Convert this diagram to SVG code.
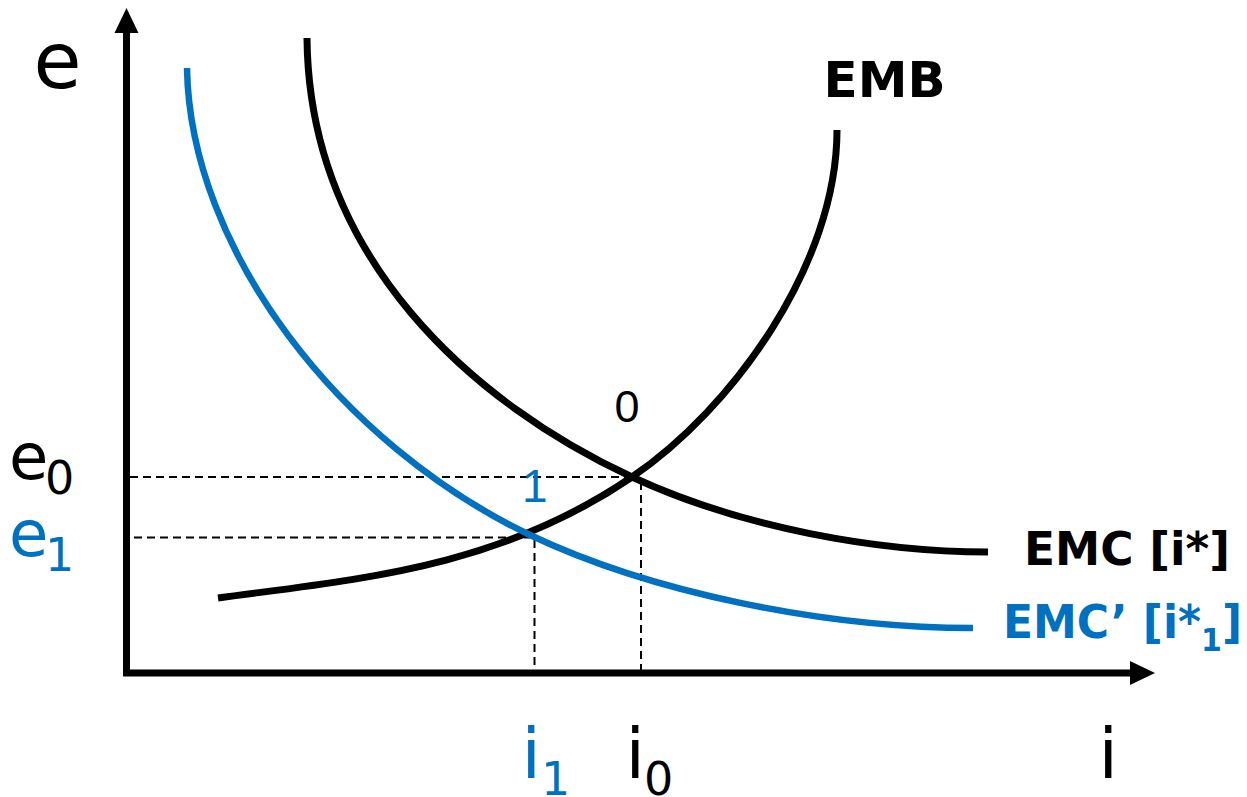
<svg xmlns="http://www.w3.org/2000/svg" width="1247" height="797" viewBox="0 0 1247 797">
<style>
.axis{fill:none;stroke:#000;stroke-width:7;stroke-linejoin:miter}
.curve{fill:none;stroke:#000;stroke-width:7}
.blue{fill:none;stroke:#0070C0;stroke-width:6.5}
.dash{fill:none;stroke:#000;stroke-width:2;stroke-dasharray:8 5}
.lbl{font-family:"DejaVu Sans",Verdana,sans-serif;fill:#000}
.b{fill:#0070C0}
.bold{font-family:"DejaVu Sans",Verdana,sans-serif;font-weight:bold}
.pt{font-family:"Liberation Sans",Arial,sans-serif}
</style>
<rect width="1247" height="797" fill="#fff"/>
<g id="axes">
<path class="axis" d="M126.5,30 V673 H1132"/>
<polygon points="126.5,8 114.5,33 138.5,33" fill="#000"/>
<polygon points="1155,673 1130,661 1130,685" fill="#000"/>
</g>
<g id="guides">
<path class="dash" d="M130,477 H632"/>
<path class="dash" d="M134,537.5 H530"/>
<path class="dash" d="M641,482 V670"/>
<path class="dash" d="M534.5,540 V670"/>
</g>
<g id="connectors">
<path id="EMB" class="curve" d="M218,598 C358,579 497,569 632,477 C732,409 837,265 837,130"/>
<path id="EMC" class="curve" d="M307,38 C309,260 475,404 632,477 C742,528 878,552 988,552"/>
<path id="EMC1" class="blue" d="M187,68 C190,250 340,444 530,535 C650,592 823,628 973,628"/>
</g>
<g id="label-e"><text class="lbl" x="33.6" y="88" font-size="78">e</text></g>
<g id="label-e0"><text class="lbl" x="9" y="479" font-size="64">e<tspan x="45" y="494" font-size="46">0</tspan></text></g>
<g id="label-e1"><text class="lbl b" x="9" y="556" font-size="64">e<tspan x="45" y="571" font-size="46">1</tspan></text></g>
<g id="label-i1"><text class="lbl b" x="521.4" y="778" font-size="70">i<tspan x="541" y="795" font-size="46">1</tspan></text></g>
<g id="label-i0"><text class="lbl" x="625.4" y="778" font-size="70">i<tspan x="644" y="795" font-size="46">0</tspan></text></g>
<g id="label-i"><text class="lbl" x="1098.5" y="778" font-size="70">i</text></g>
<g id="point-0"><text class="pt" x="627" y="421.5" font-size="45" text-anchor="middle">0</text></g>
<g id="point-1"><text class="pt" x="522" y="502" font-size="46" fill="#0070C0">1</text></g>
<g id="label-EMB"><text class="bold" x="823.5" y="97" font-size="50">EMB</text></g>
<g id="label-EMC"><text class="bold" x="1024" y="565" font-size="47" textLength="206" lengthAdjust="spacingAndGlyphs">EMC [i*]</text></g>
<g id="label-EMC1"><text class="bold" x="1003" y="638" font-size="47" fill="#0070C0" textLength="239" lengthAdjust="spacingAndGlyphs">EMC’ [i*<tspan font-size="32" dy="13">1</tspan><tspan dy="-13">]</tspan></text></g>
</svg>
